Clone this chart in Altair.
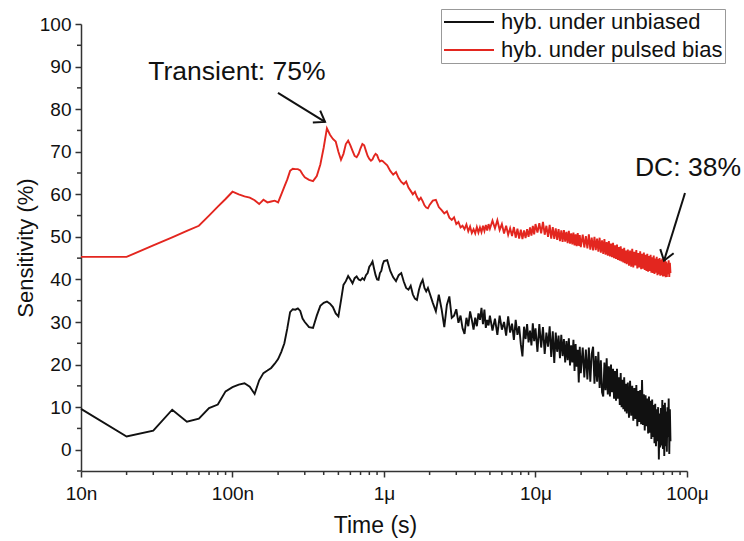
import altair as alt
import pandas as pd

# time in microseconds
time_us = [
    0.01, 0.02, 0.03, 0.04, 0.05, 0.06, 0.07, 0.08, 0.09, 0.10,
    0.11, 0.12, 0.13, 0.14, 0.15, 0.16, 0.17, 0.18, 0.19, 0.20,
    0.21, 0.22, 0.23, 0.24, 0.25, 0.26, 0.27, 0.28, 0.29, 0.30,
    0.32, 0.34, 0.36, 0.38, 0.40, 0.42, 0.44, 0.46, 0.48, 0.50,
    0.52, 0.54, 0.56, 0.58, 0.60, 0.62, 0.64, 0.66, 0.68, 0.70,
    0.72, 0.74, 0.76, 0.78, 0.80, 0.82, 0.84, 0.86, 0.88, 0.90,
    0.92, 0.94, 0.96, 0.98, 1.00,
    1.05, 1.10, 1.15, 1.20, 1.25, 1.30, 1.35, 1.40, 1.45, 1.50,
    1.55, 1.60, 1.65, 1.70, 1.75, 1.80, 1.85, 1.90, 1.95, 2.00,
    2.1, 2.2, 2.3, 2.4, 2.5, 2.6, 2.7, 2.8, 2.9, 3.0,
    3.1, 3.2, 3.3, 3.4, 3.5, 3.6, 3.7, 3.8, 3.9, 4.0,
    4.1, 4.2, 4.3, 4.4, 4.5, 4.6, 4.7, 4.8, 4.9, 5.0,
    5.2, 5.4, 5.6, 5.8, 6.0, 6.2, 6.4, 6.6, 6.8, 7.0,
    7.2, 7.4, 7.6, 7.8, 8.0, 8.2, 8.4, 8.6, 8.8, 9.0,
    9.2, 9.4, 9.6, 9.8, 10.0,
    10.3, 10.6, 10.9, 11.2, 11.5, 11.8, 12.1, 12.4, 12.7, 13.0,
    13.3, 13.6, 13.9, 14.2, 14.5, 14.8, 15.1, 15.4, 15.7, 16.0,
    16.3, 16.6, 16.9, 17.2, 17.5, 17.8, 18.1, 18.4, 18.7, 19.0,
    19.3, 19.6, 19.9,
    20.5, 21.0, 21.5, 22.0, 22.5, 23.0, 23.5, 24.0, 24.5, 25.0,
    25.5, 26.0, 26.5, 27.0, 27.5, 28.0, 28.5, 29.0, 29.5, 30.0,
    30.5, 31.0, 31.5, 32.0, 32.5, 33.0, 33.5, 34.0, 34.5, 35.0,
    35.5, 36.0, 36.5, 37.0, 37.5, 38.0, 38.5, 39.0, 39.5, 40.0,
    40.7, 41.4, 42.1, 42.8, 43.5, 44.2, 44.9, 45.6, 46.3, 47.0,
    47.7, 48.4, 49.1, 49.8, 50.5, 51.2, 51.9, 52.6, 53.3, 54.0,
    54.7, 55.4, 56.1, 56.8, 57.5, 58.2, 58.9, 59.6, 60.3, 61.0,
    61.7, 62.4, 63.1, 63.8, 64.5, 65.2, 65.9, 66.6, 67.3, 68.0,
    68.7, 69.4, 70.1, 70.8, 71.5, 72.2, 72.9, 73.6, 74.3, 75.0,
    75.7, 76.4, 77.1, 77.8,
]

unbiased = [
    9.6, 3.1, 4.5, 9.4, 6.6, 7.3, 9.8, 10.6, 13.7, 14.7,
    15.3, 15.6, 14.8, 13.1, 16.3, 18.0, 18.6, 19.2, 20.2, 21.3,
    23.0, 25.0, 28.5, 32.3, 33.0, 32.9, 33.2, 32.6, 30.8, 30.0,
    28.8, 28.6, 31.5, 33.8, 34.5, 34.8, 34.3, 33.5, 32.0, 31.3,
    35.0, 38.7, 39.6, 40.8, 40.0, 39.1, 40.3, 40.7, 40.0, 39.8,
    40.3, 39.9, 41.0, 41.5, 43.0, 43.5, 44.2, 42.5, 41.0, 40.0,
    39.9, 41.5, 42.0, 43.5, 44.3,
    44.5, 42.0, 40.5, 39.6, 41.0, 41.5, 39.5, 38.0, 37.6, 38.5,
    36.5, 35.5, 35.2, 37.5, 39.0, 39.9, 38.0, 37.2, 38.0, 36.8,
    34.5, 32.5, 36.4, 33.0, 28.8, 34.0, 36.0, 31.0, 31.5, 33.0,
    29.8, 31.5, 28.5, 27.2, 31.0, 29.0, 32.5, 30.5, 28.2, 31.0,
    29.0, 32.0, 30.5, 33.3, 29.5, 32.9, 28.6, 30.5, 29.2, 31.5,
    28.0, 30.8, 27.0, 31.5, 28.2, 30.0, 26.8, 31.3, 27.5, 29.6,
    25.8, 30.5, 27.0, 29.0, 24.8, 21.9, 28.9, 26.0, 29.5, 25.2,
    28.0, 24.5, 29.7, 25.5, 28.5,
    23.0, 29.5, 24.0, 28.8, 22.5, 27.5, 24.2, 29.0, 21.8, 27.8,
    20.4, 27.5, 23.0, 26.8, 21.5, 27.0, 22.0, 26.0, 20.5, 25.5,
    21.0, 26.2, 19.8, 24.5, 20.5, 25.8, 18.5, 24.8, 19.5, 23.5,
    15.8, 24.2, 18.0,
    24.0, 17.0, 23.5, 16.5, 24.0, 16.0, 22.5, 24.2, 15.5, 22.0,
    16.0, 23.0, 14.5, 21.0, 13.5, 12.5, 20.5, 14.0, 21.5, 13.0,
    19.6, 12.5, 20.0, 13.5, 19.0, 12.0, 18.5, 11.5, 19.0, 12.0,
    17.0, 10.5, 18.0, 10.0, 16.4, 9.5, 17.0, 9.0, 15.5, 8.5,
    15.8, 7.5, 16.2, 8.0, 15.0, 6.8, 14.5, 7.2, 15.2, 5.5,
    13.8, 6.5, 14.0, 6.0, 16.4, 5.8, 13.0, 4.5, 12.8, 5.5,
    12.0, 3.8, 12.5, 4.0, 11.5, 2.5, 11.8, 3.0, 10.5, 1.5,
    10.8, 0.8, 9.5, 2.0, 10.0, -2.3, 8.5, 0.5, 9.8, 1.0,
    11.7, 0.2, 10.5, -1.5, 11.0, 0.8, 9.0, -0.5, 10.0, 3.0,
    12.0, -1.0, 9.5, 2.0,
]

pulsed_bias = [
    45.3, 45.3, 48.0, 49.9, 51.4, 52.6, 55.0, 57.1, 58.9, 60.6,
    60.0, 59.5, 59.2, 58.6, 57.7, 58.7, 58.1, 58.3, 58.5, 58.1,
    60.0, 61.8, 63.5, 65.5, 66.0, 65.9, 65.9, 65.6, 64.7, 64.0,
    63.4, 63.1, 64.3, 67.0, 71.0, 75.5, 74.0, 73.0, 72.4, 70.0,
    68.1, 69.5, 71.8, 72.6, 71.5, 70.2, 69.0, 68.7, 69.5, 70.8,
    71.8, 71.5, 70.2, 69.0, 68.3, 67.9, 68.2, 69.0, 69.5, 69.2,
    68.3, 67.7, 67.9, 67.8, 67.5,
    66.8, 65.5, 64.6, 65.2, 63.8, 62.9, 62.4, 63.0, 61.6, 60.8,
    60.0, 60.6, 59.4, 58.6, 59.2, 58.4, 57.4, 56.9, 56.7, 57.5,
    58.5, 58.7, 57.0, 56.3, 55.5, 56.0, 54.5, 54.0, 54.6, 53.0,
    53.5, 52.2, 52.6, 51.8, 52.9, 51.3, 52.4, 50.9, 51.8, 50.8,
    52.3, 51.0, 52.2, 51.1, 52.6, 51.4, 52.8, 51.5, 53.0, 51.9,
    53.8, 52.0, 53.9, 51.6, 53.0, 50.8, 52.6, 50.5, 52.0, 50.2,
    52.3, 49.8, 51.9, 49.6, 51.7, 49.5, 51.5, 49.7, 51.8, 50.0,
    52.2, 50.3, 52.6, 50.6, 53.0,
    51.0, 53.2, 50.8, 53.5, 50.5, 52.6, 50.0, 52.8, 49.6, 52.3,
    49.5, 52.0, 49.3, 51.8, 49.0, 51.5, 48.8, 51.6, 48.9, 51.2,
    48.5, 51.4, 48.4, 50.8, 48.2, 51.0, 48.0, 50.6, 47.8, 50.9,
    47.9, 50.4, 47.6,
    50.5, 47.5, 50.2, 47.3, 50.6, 47.0, 49.8, 46.8, 50.0, 46.9,
    49.6, 46.5, 49.8, 46.3, 49.2, 46.0, 49.5, 45.8, 48.8, 45.6,
    49.0, 45.4, 48.4, 45.2, 48.6, 45.0, 48.0, 44.8, 48.2, 44.6,
    47.6, 44.4, 47.8, 44.2, 47.2, 44.0, 47.4, 43.8, 46.8, 43.6,
    47.0, 43.2, 46.8, 43.0, 47.2, 42.8, 46.5, 43.3, 46.9, 42.6,
    46.2, 42.8, 46.6, 42.4, 46.0, 42.5, 46.3, 42.2, 45.8, 42.0,
    46.0, 41.8, 45.5, 42.0, 45.8, 41.6, 45.2, 41.5, 45.6, 41.3,
    44.9, 41.6, 45.3, 41.0, 44.8, 41.2, 45.0, 40.9, 44.6, 41.0,
    44.9, 40.7, 44.4, 40.8, 44.6, 40.5, 44.2, 40.6, 43.8, 41.2,
    44.5, 40.6, 43.9, 41.5,
]

series_names = ["hyb. under unbiased", "hyb. under pulsed bias"]
series_colors = ["#111111", "#e3261f"]

x_major = [0.01, 0.1, 1, 10, 100]
x_minor = [0.02, 0.03, 0.04, 0.05, 0.06, 0.07, 0.08, 0.09,
           0.2, 0.3, 0.4, 0.5, 0.6, 0.7, 0.8, 0.9,
           2, 3, 4, 5, 6, 7, 8, 9,
           20, 30, 40, 50, 60, 70, 80, 90]
y_major = [0, 10, 20, 30, 40, 50, 60, 70, 80, 90, 100]
y_minor = [-5, 5, 15, 25, 35, 45, 55, 65, 75, 85, 95]

# annotations (text and arrows)
ann_labels = ["Transient: 75%", "DC: 38%"]
ann_text_t = [0.107, 101.5]
ann_text_v = [86.9, 64.3]
arrow_t0 = [0.1996, 97.0]
arrow_v0 = [83.8, 60.3]
arrow_t1 = [0.408, 70.5]
arrow_v1 = [77.0, 44.4]
arrow_angle = [31.7, 107.2]

assert len(time_us) == len(unbiased) == len(pulsed_bias)
n = len(time_us)
df = pd.DataFrame({
    "time": time_us + time_us,
    "value": unbiased + pulsed_bias,
    "series": [series_names[0]] * n + [series_names[1]] * n,
    "order": list(range(n)) + list(range(n)),
})
ann = pd.DataFrame({"label": ann_labels, "t": ann_text_t, "v": ann_text_v})
arr = pd.DataFrame({"t0": arrow_t0, "v0": arrow_v0, "t1": arrow_t1,
                    "v1": arrow_v1, "ang": arrow_angle})
xminor_df = pd.DataFrame({"tm": x_minor})
yminor_df = pd.DataFrame({"vm": y_minor})

FONT = "Liberation Sans"
xscale = alt.Scale(type="log", domain=[0.01, 100], nice=False)
yscale = alt.Scale(domain=[-5, 100], nice=False, zero=False)

label_expr = ("datum.value < 0.05 ? '10n' : datum.value < 0.5 ? '100n' : "
              "datum.value < 5 ? '1\u03bc' : datum.value < 50 ? '10\u03bc' : '100\u03bc'")

x_axis = alt.Axis(values=x_major, labelExpr=label_expr, title="Time (s)",
                  orient="bottom", grid=False, tickSize=6, tickWidth=1.5,
                  tickColor="#333", domainColor="#333", domainWidth=1.5,
                  labelFont=FONT, labelFontSize=19, labelColor="#111",
                  labelPadding=7, labelFlush=False, labelOverlap=False,
                  titleFont=FONT, titleFontSize=23, titleFontWeight="normal",
                  titleColor="#111", titleX=294, titleY=54,
                  titleAlign="center", titleBaseline="middle")
y_axis = alt.Axis(values=y_major, title="Sensitivity (%)", orient="left",
                  grid=False, tickSize=6, tickWidth=1.5, tickColor="#333",
                  domainColor="#333", domainWidth=1.5,
                  labelFont=FONT, labelFontSize=19, labelColor="#111",
                  labelPadding=4, labelOverlap=False,
                  titleFont=FONT, titleFontSize=22, titleFontWeight="normal",
                  titleColor="#111", titleX=-56, titleY=223.5, titleAngle=270,
                  titleAlign="center", titleBaseline="middle")

legend = alt.Legend(title=None, orient="none", legendX=360, legendY=-15,
                    symbolType="M-2.5,0H2.5", symbolSize=400,
                    symbolStrokeWidth=2, symbolOffset=15, labelOffset=21,
                    labelFont=FONT, labelFontSize=22, labelColor="#111",
                    labelLimit=400, padding=2, rowPadding=6,
                    strokeColor="#999", fillColor="white")


def X(field):
    return alt.X(field, scale=xscale, axis=x_axis, title="Time (s)")


def Y(field):
    return alt.Y(field, scale=yscale, axis=y_axis, title="Sensitivity (%)")


lines = alt.Chart(df).mark_line(strokeWidth=1.9).encode(
    x=X("time:Q"), y=Y("value:Q"),
    color=alt.Color("series:N", scale=alt.Scale(domain=series_names, range=series_colors),
                    legend=legend),
    detail="series:N",
    order="order:Q",
)

# minor axis ticks (positions from the tick value lists through the scales)
xminor_ticks = alt.Chart(xminor_df).mark_rule(strokeWidth=1.5, color="#333").encode(
    x=X("tm:Q"), y=alt.value(447), y2=alt.value(451))
yminor_ticks = alt.Chart(yminor_df).mark_rule(strokeWidth=1.5, color="#333").encode(
    y=Y("vm:Q"), x=alt.value(0), x2=alt.value(-4))

texts = alt.Chart(ann).mark_text(font=FONT, fontSize=26.5, color="#111",
                                 align="center", baseline="alphabetic").encode(
    x=X("t:Q"), y=Y("v:Q"), text="label:N")

arrow_lines = alt.Chart(arr).mark_rule(strokeWidth=2, color="#111").encode(
    x=X("t0:Q"), y=Y("v0:Q"), x2="t1:Q", y2="v1:Q")

arrow_heads = alt.Chart(arr).mark_point(shape="M-1,-0.7L0,0L-1,0.7", size=400,
                                        filled=False, strokeWidth=2,
                                        color="#111", opacity=1).encode(
    x=X("t1:Q"), y=Y("v1:Q"), angle=alt.Angle("ang:Q", scale=None))

chart = alt.layer(lines, xminor_ticks, yminor_ticks, texts, arrow_lines,
                  arrow_heads).properties(
    width=606, height=447,
    padding={"left": 81, "top": 24, "right": 57, "bottom": 70},
    autosize=alt.AutoSizeParams(type="none"),
    background="white",
).configure_view(stroke=None)

chart.save("out.html", embed_options={"renderer": "svg", "actions": False})
